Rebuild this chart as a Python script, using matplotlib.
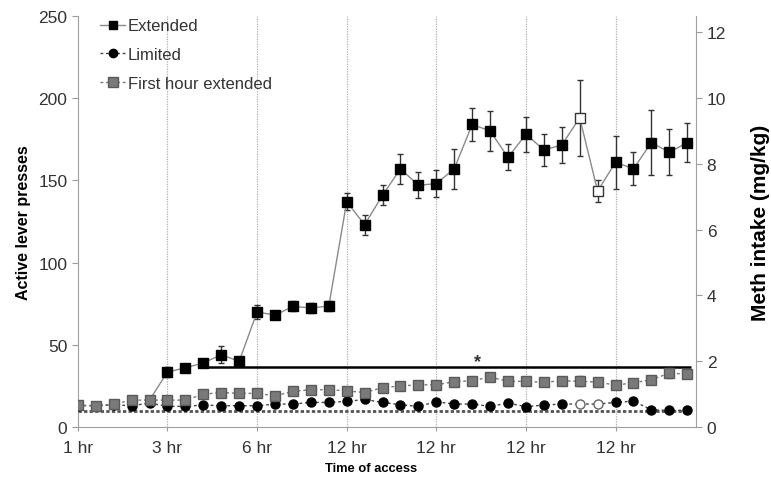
#! /usr/bin/env python3

import matplotlib
matplotlib.use("Agg")
import matplotlib.pyplot as plt
import numpy as np

plt.rcParams['font.family'] = ['Liberation Sans', 'DejaVu Sans']

##
## Sessions and tick labels
##
sessions = np.arange(35)
tick_sessions = [0, 5, 10, 15, 20, 25, 30]
tick_labels = ['1 hr', '3 hr', '6 hr', '12 hr', '12 hr', '12 hr', '12 hr']

##
## Extended group (active lever presses); first 5 sessions sit under first-hour squares
##
extended = [13.4, 13, 14, 16.4, 16.4,
            33.5, 36, 39, 44, 40,
            70, 68, 73.4, 72.4, 73.6,
            137, 123, 141, 157, 147,
            148, 157, 184, 180, 164,
            178, 168.5, 171.5, 188, 143.5,
            161, 157, 173, 167, 173]
extended_err = [0, 0, 0, 0, 0,
                3, 2, 2, 5, 2,
                4, 2, 3, 3, 3,
                5, 6, 6, 9, 8,
                8, 12, 10, 12, 8,
                10.5, 9.7, 11, 23, 6.7,
                16, 10, 20, 14, 12]
extended_open = [28, 29]

##
## Limited group
##
limited = [13, 13, 13.5, 13, 14.6,
           12.6, 12.6, 13.4, 13, 13,
           13, 14, 14, 15, 15,
           15.6, 16.8, 15, 13.6, 12.6,
           15.4, 14, 14, 12.6, 14.6,
           12.4, 13.4, 14, 14, 14,
           15, 15.8, 10.5, 10.1, 10.3]
limited_open = [28, 29]

##
## First hour of the extended sessions
##
first_hour = [13.4, 13, 14, 16.4, 16.4,
              16.4, 16.4, 20, 21, 20.5,
              20.5, 19, 21.7, 22.7, 22.7,
              22, 21, 24, 25, 25.7,
              25.7, 27.6, 28.2, 30.4, 27.8,
              27.8, 27.2, 28.2, 27.8, 27.4,
              25.5, 26.9, 28.8, 32.8, 32.2]
first_hour_err = [0] * 28 + [3, 0, 0, 0, 0, 3, 0]

##
## Reference lines
##
sig_line_level = 36.3
sig_line_start = 7
star_session = 22.3
baseline_level = 10

figure = plt.figure(figsize=(7.71, 4.81), dpi=100)
ax = figure.add_axes([0.101, 0.110, 0.802, 0.855])

grey = '#8a8a8a'
msize = 6.5
for s in tick_sessions[1:]:
    ax.axvline(s, color='#b0b0b0', linestyle=(0, (1, 1)), linewidth=0.9, zorder=0)

ax.hlines(baseline_level, 0, 34.2, color='#555555', linestyle=(0, (1.2, 0.8)),
          linewidth=2.0, zorder=1)
ax.hlines(sig_line_level, sig_line_start, 34.2, color='black', linewidth=1.8, zorder=1)
ax.text(star_session, sig_line_level + 3.5, '*', ha='center', va='center',
        fontsize=13, fontweight='bold', color='#333333')

x = sessions
ext = np.array(extended)
ext_err = np.array(extended_err)
ax.errorbar(x[4:], ext[4:], yerr=ext_err[4:], fmt='none', ecolor='#333333',
            elinewidth=1.0, capsize=2, zorder=2)
ax.plot(x[4:], ext[4:], color=grey, linewidth=1.0, zorder=3)
closed = [i for i in range(5, 35) if i not in extended_open]
ax.plot(x[closed], ext[closed], linestyle='none', marker='s', markersize=msize,
        color='black', zorder=4)
ax.plot(x[extended_open], ext[extended_open], linestyle='none', marker='s',
        markersize=msize, markerfacecolor='white', markeredgecolor='#333333', zorder=4)
ext_handle, = ax.plot([], [], color=grey, linewidth=1.0, marker='s', markersize=6,
                      markerfacecolor='black', markeredgecolor='black')

lim = np.array(limited)
ax.plot(x, lim, color='#444444', linestyle=(0, (2, 2)), linewidth=1.0, zorder=3)
closed = [i for i in range(35) if i not in limited_open]
ax.plot(x[closed], lim[closed], linestyle='none', marker='o', markersize=msize,
        color='black', zorder=4)
ax.plot(x[limited_open], lim[limited_open], linestyle='none', marker='o',
        markersize=msize, markerfacecolor='white', markeredgecolor='#666666', zorder=4)
lim_handle, = ax.plot([], [], color='#444444', linestyle=(0, (2, 2)), linewidth=1.0,
                      marker='o', markersize=6, markerfacecolor='black',
                      markeredgecolor='black')

fh = np.array(first_hour)
fh_err = np.array(first_hour_err)
ax.errorbar(x, fh, yerr=fh_err, fmt='none', ecolor='#555555', elinewidth=1.0,
            capsize=2, zorder=5)
fh_handle, = ax.plot(x, fh, color='#777777', linestyle=(0, (2, 2)), linewidth=1.0,
                     marker='s', markersize=msize, markerfacecolor='#7a7a7a',
                     markeredgecolor='#5a5a5a', zorder=6)

ax.set_xlim(0, 34.5)
ax.set_ylim(0, 250)
ax.set_xticks(tick_sessions)
ax.set_xticklabels(tick_labels)
ax.set_yticks(np.arange(0, 251, 50))
ax.tick_params(axis='both', colors='#9a9a9a', labelcolor='#333333', labelsize=12.5,
               length=4)
ax.tick_params(axis='x', length=3, pad=6)
for side in ['top', 'right']:
    ax.spines[side].set_visible(False)
for side in ['left', 'bottom']:
    ax.spines[side].set_color('#a0a0a0')
ax.set_ylabel('Active lever presses', fontsize=11.5, fontweight='bold', labelpad=5)

ax2 = ax.twinx()
ax2.set_ylim(0, 12.5)
ax2.set_yticks(np.arange(0, 13, 2))
for side in ['top', 'left', 'bottom']:
    ax2.spines[side].set_visible(False)
ax2.spines['right'].set_color('#a0a0a0')
ax2.tick_params(axis='y', colors='#9a9a9a', labelcolor='#333333', labelsize=12.5,
                length=4)
ax2.set_ylabel('Meth intake (mg/kg)', fontsize=15, fontweight='bold', labelpad=18)

figure.text(371 / 771, 1 - 469 / 481, 'Time of access', ha='center', va='center',
            fontsize=9.3, fontweight='bold')

ax.legend([ext_handle, lim_handle, fh_handle],
          ['Extended', 'Limited', 'First hour extended'],
          loc='upper left', bbox_to_anchor=(0.012, 1.03), frameon=False,
          fontsize=12, handlelength=1.5, handletextpad=0.15, labelspacing=0.82,
          labelcolor='#333333')

figure.savefig('out.png', dpi=100)
